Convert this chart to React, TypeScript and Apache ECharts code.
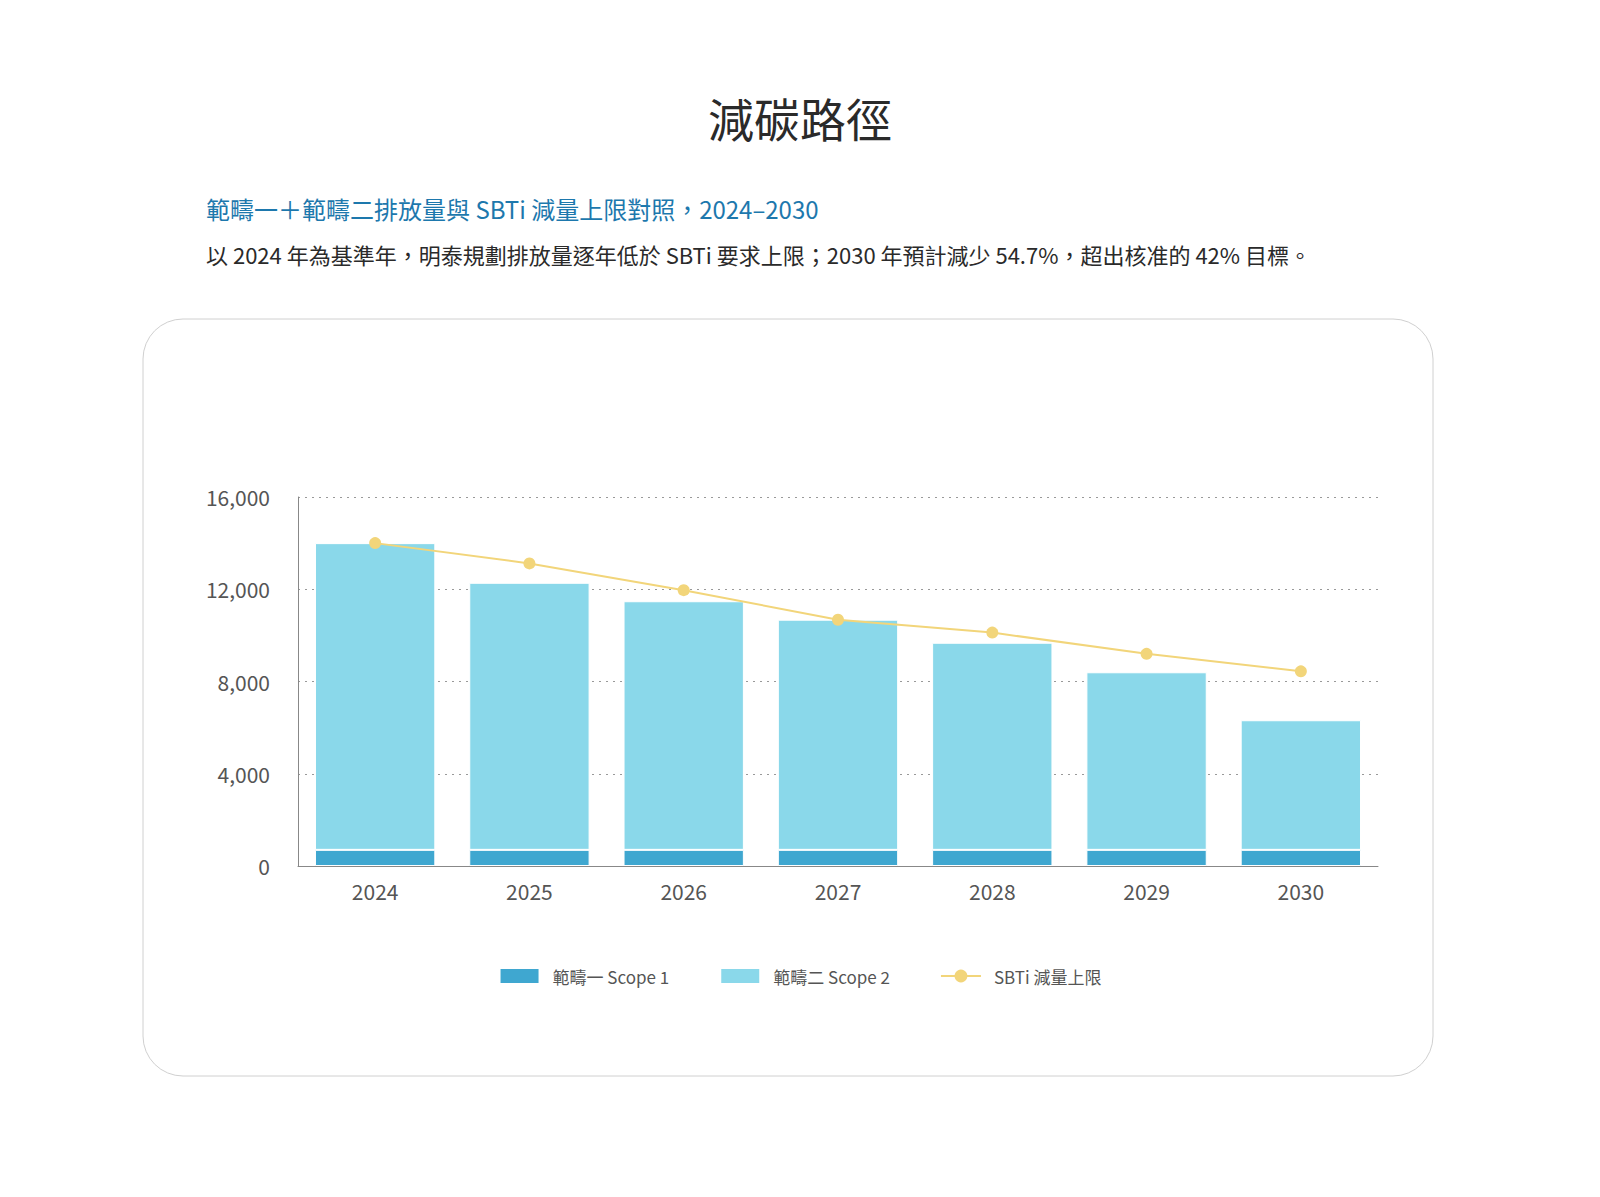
import React, { useEffect, useRef } from "react";
import * as echarts from "echarts";

const years = ["2024", "2025", "2026", "2027", "2028", "2029", "2030"];
const scope1 = [700, 700, 700, 700, 700, 700, 700];
const scope2 = [13300, 11580, 10780, 9980, 8980, 7700, 5620];
const sbtiCap = [14000, 13120, 11960, 10680, 10120, 9200, 8440];

const FONT = "'Noto Sans CJK TC', 'Noto Sans', sans-serif";

const App = () => {
  const chartRef = useRef(null);

  useEffect(() => {
    if (!chartRef.current) return;
    const chart = echarts.init(chartRef.current, null, { renderer: "svg" });
    chart.setOption({
      animation: false,
      textStyle: { fontFamily: FONT },
      graphic: [
        {
          type: "rect",
          shape: { x: 143, y: 319, width: 1290, height: 757, r: 40 },
          style: { fill: "#fff", stroke: "#d0d0d0", lineWidth: 1 },
          z: -10,
        },
        {
          type: "text",
          x: 800,
          y: 117,
          style: {
            text: "減碳路徑",
            fontSize: 46,
            fill: "#2a2a2a",
            fontFamily: FONT,
            align: "center",
            verticalAlign: "middle",
            letterSpacing: 10,
          },
        },
        {
          type: "text",
          x: 206,
          y: 208,
          style: {
            text: "範疇一＋範疇二排放量與 SBTi 減量上限對照，2024–2030",
            fontSize: 24,
            fill: "#1d78ad",
            fontFamily: FONT,
            verticalAlign: "middle",
          },
        },
        {
          type: "text",
          x: 206,
          y: 254,
          style: {
            text: "以 2024 年為基準年，明泰規劃排放量逐年低於 SBTi 要求上限；2030 年預計減少 54.7%，超出核准的 42% 目標。",
            fontSize: 22,
            fill: "#2a2a2a",
            fontFamily: FONT,
            verticalAlign: "middle",
            letterSpacing: 1.2,
          },
        },
      ],
      grid: { left: 298, right: 222, top: 497, bottom: 331 },
      legend: {
        top: 962,
        left: "center",
        itemGap: 50,
        itemWidth: 40,
        itemHeight: 16,
        textStyle: { fontSize: 17, color: "#555", fontFamily: FONT, padding: [0, 0, 0, 8], letterSpacing: 1 },
        data: [
          { name: "範疇一 Scope 1", icon: "rect" },
          { name: "範疇二 Scope 2", icon: "rect" },
          { name: "SBTi 減量上限" },
        ],
      },
      xAxis: {
        type: "category",
        data: years,
        axisLine: { lineStyle: { color: "#888" } },
        axisTick: { show: false },
        axisLabel: { fontSize: 21, color: "#555", margin: 14 },
      },
      yAxis: {
        type: "value",
        min: 0,
        max: 16000,
        interval: 4000,
        axisLine: { show: true, lineStyle: { color: "#888" } },
        axisLabel: {
          fontSize: 21,
          color: "#555",
          margin: 28,
          formatter: (v: number) => v.toLocaleString("en-US"),
        },
        splitLine: { lineStyle: { color: "#999", type: [2, 5] } },
      },
      series: [
        {
          name: "範疇一 Scope 1",
          type: "bar",
          stack: "total",
          data: scope1,
          barWidth: "78%",
          itemStyle: { color: "#3fa7d0", borderColor: "#fff", borderWidth: 1 },
        },
        {
          name: "範疇二 Scope 2",
          type: "bar",
          stack: "total",
          data: scope2,
          itemStyle: { color: "#8ad8ea", borderColor: "#fff", borderWidth: 1 },
        },
        {
          name: "SBTi 減量上限",
          type: "line",
          data: sbtiCap,
          symbol: "circle",
          symbolSize: 12,
          lineStyle: { color: "#f2d57a", width: 2 },
          itemStyle: { color: "#f2d57a" },
          z: 5,
        },
      ],
    });
    return () => {
      chart.dispose();
    };
  }, []);

  return (
    <div
      ref={chartRef}
      style={{ position: "fixed", left: 0, top: 0, width: "1600px", height: "1197px", background: "#fff" }}
    />
  );
};

export default App;
